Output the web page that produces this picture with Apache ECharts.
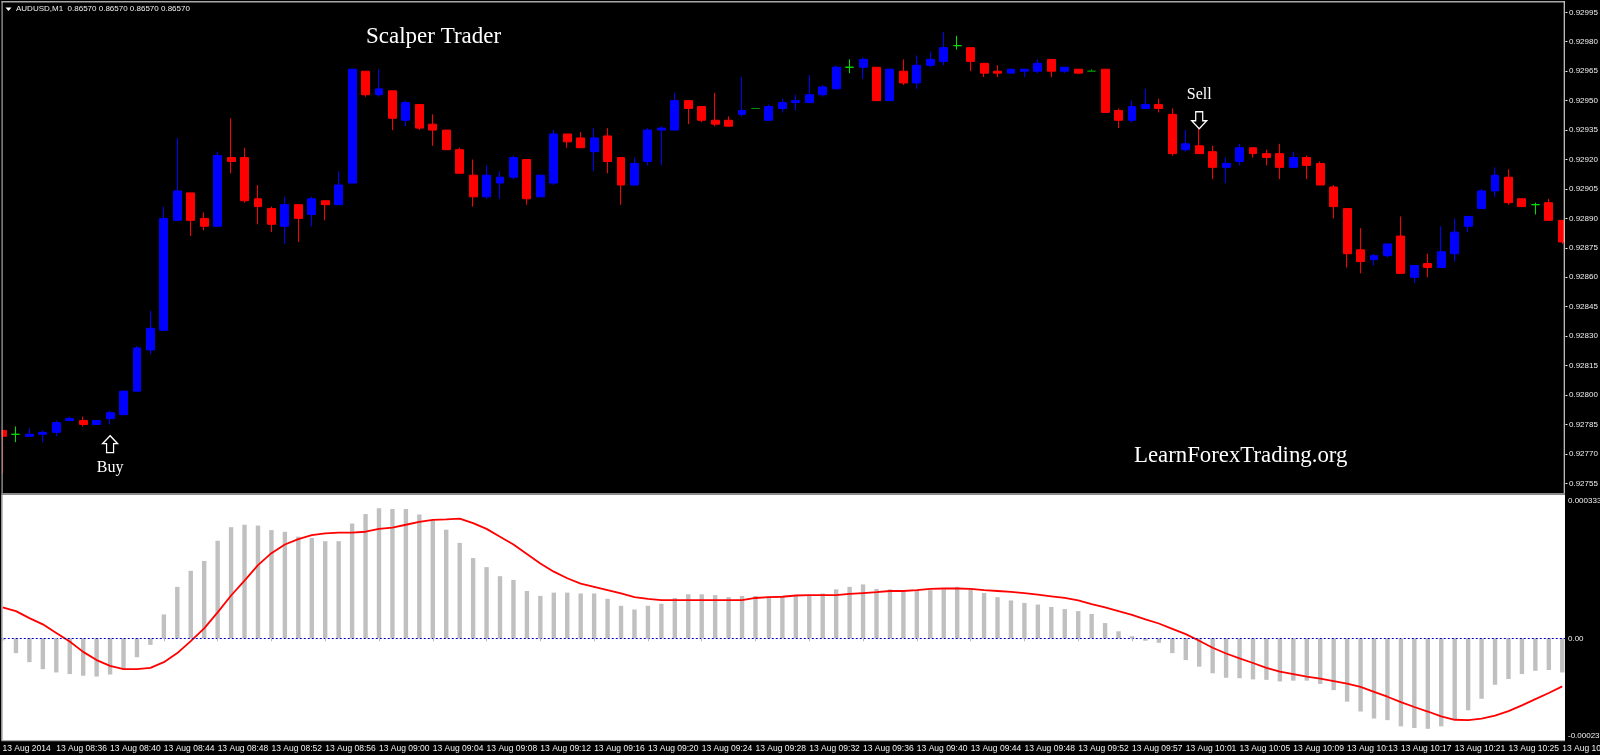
<!DOCTYPE html>
<html><head><meta charset="utf-8">
<style>html,body{margin:0;padding:0;background:#000;overflow:hidden}#c{width:1600px;height:755px}</style>
<script src="https://cdn.jsdelivr.net/npm/echarts@6/dist/echarts.min.js"></script>
</head><body><div id="c"></div>
<script>
// Prices are stored as points above 0.92000 (1 point = 0.00001)
const priceBase = 0.92, pointSize = 0.00001;
const opens = [782,780,779,780,781,787,787,785,788,790,802,823,833,889,903,890,886,921,921,900,895,886,897,892,899,897,908,965,953,955,940,948,938,935,925,912,901,908,911,920,901,908,933,931,924,932,921,907,919,935,935,950,947,940,940,943,946,940,946,949,949,953,956,967,967,967,950,965,959,968,970,978,977,969,965,964,965,965,971,965,966,965,966,945,940,946,948,943,925,927,924,916,919,926,923,923,916,921,918,906,895,874,869,871,881,860,867,865,872,886,895,904,911,900,897,898,889];
const closes = [779,780,780,781,786,788,785,787,791,802,824,834,890,904,889,886,922,919,899,896,887,897,890,900,897,907,966,953,956,941,949,936,935,925,913,901,912,911,921,900,912,933,929,926,931,919,907,918,935,936,950,946,940,938,937,945,946,947,949,950,953,957,967,967,971,950,966,959,968,971,977,978,970,964,964,966,966,969,965,967,964,965,944,940,947,948,946,923,928,923,916,918,926,923,921,916,921,917,907,896,872,868,871,877,862,866,865,873,883,891,904,912,898,896,897,889,878];
const highs = [782,784,783,782,787,789,789,787,792,802,825,843,896,931,903,893,924,941,926,907,896,901,897,901,899,914,966,965,966,955,950,948,943,935,926,920,917,914,922,920,912,935,933,934,936,936,921,921,936,937,954,950,947,954,942,962,946,948,951,953,963,958,968,971,972,967,966,971,973,975,985,983,977,969,968,966,966,971,971,967,966,966,966,946,950,956,951,946,935,936,927,921,928,926,925,928,924,922,919,907,895,885,872,877,891,866,872,886,890,891,905,916,915,900,898,900,889];
const lows = [760,776,779,776,779,787,784,785,785,790,802,821,833,889,881,884,886,913,898,887,883,877,878,886,889,897,908,952,952,935,937,935,927,925,913,896,900,900,910,897,901,907,926,926,914,913,897,907,917,917,935,938,939,937,937,942,946,940,944,945,949,952,956,964,961,950,950,958,956,967,968,976,965,962,962,964,962,964,962,964,964,965,944,936,939,946,944,922,924,923,910,908,917,921,917,910,916,910,907,890,865,862,866,870,862,857,860,865,868,883,895,901,897,896,892,889,877];
const darkDoji = [56, 81];
// MACD values in millionths (1 = 0.000001)
const macdBars = [-5,-36,-58,-75,-83,-87,-91,-93,-88,-75,-46,-16,58,125,164,188,237,270,276,274,263,259,247,244,236,236,279,302,316,314,314,301,288,264,232,195,173,151,142,115,103,111,111,109,109,96,79,70,79,84,98,107,107,105,100,103,103,102,100,104,105,109,119,125,131,120,119,115,115,117,119,125,120,110,100,92,86,82,76,71,66,59,37,17,5,-6,-11,-36,-53,-69,-85,-96,-97,-100,-101,-105,-103,-103,-111,-126,-154,-178,-195,-199,-214,-218,-220,-214,-198,-175,-147,-113,-99,-87,-79,-77,-83];
const macdSignal = [75,66,49,34,13,-8,-33,-53,-67,-75,-75,-72,-58,-36,-7,24,63,104,140,178,207,228,241,251,255,257,257,259,266,269,276,283,288,289,291,280,266,247,228,205,182,162,146,133,125,117,109,100,96,93,93,93,93,93,93,93,98,100,101,104,105,105,105,108,110,112,115,115,117,120,121,121,120,117,115,113,110,106,102,98,92,83,75,66,57,46,36,23,10,-6,-23,-37,-49,-60,-72,-81,-87,-93,-98,-104,-110,-118,-130,-142,-155,-167,-178,-190,-198,-199,-195,-188,-177,-163,-148,-133,-117];
const tickLabels = ['13 Aug 2014','13 Aug 08:36','13 Aug 08:40','13 Aug 08:44','13 Aug 08:48','13 Aug 08:52','13 Aug 08:56','13 Aug 09:00','13 Aug 09:04','13 Aug 09:08','13 Aug 09:12','13 Aug 09:16','13 Aug 09:20','13 Aug 09:24','13 Aug 09:28','13 Aug 09:32','13 Aug 09:36','13 Aug 09:40','13 Aug 09:44','13 Aug 09:48','13 Aug 09:52','13 Aug 09:57','13 Aug 10:01','13 Aug 10:05','13 Aug 10:09','13 Aug 10:13','13 Aug 10:17','13 Aug 10:21','13 Aug 10:25','13 Aug 10:29'];
const priceTicks = [0.92995,0.92980,0.92965,0.92950,0.92935,0.92920,0.92905,0.92890,0.92875,0.92860,0.92845,0.92830,0.92815,0.92800,0.92785,0.92770,0.92755];
const macdTicks = [0.000333,0,-0.000237];
const headerText = 'AUDUSD,M1  0.86570 0.86570 0.86570 0.86570';

const price = p => +(priceBase + p * pointSize).toFixed(5);
const categories = opens.map((_, k) => k % 4 === 0 ? tickLabels[k / 4] : String(k));
const candles = opens.map((o, k) => {
  const value = [price(o), price(closes[k]), price(lows[k]), price(highs[k])];
  return darkDoji.includes(k) ? {value, itemStyle: {borderColorDoji: '#009000'}} : value;
});
const arrowUp = 'path://M7.5 0 L15 8 L11 8 L11 17 L4 17 L4 8 L0 8 Z';
const frame = '#a8a8a8', labelColor = '#f0f0f0', font = '"Liberation Sans"';
const gridLeft = -4.22, gridWidth = 1573.2;

const chart = echarts.init(document.getElementById('c'), null, {renderer: 'canvas', width: 1600, height: 755});
chart.setOption({
  animation: false,
  backgroundColor: '#000',
  title: [
    {text: 'Scalper Trader', left: 366, top: 25, z: 120, textStyle: {color: '#fff', fontFamily: '"Liberation Serif"', fontSize: 23, fontWeight: 'normal'}, padding: 0},
    {text: 'LearnForexTrading.org', left: 1134, top: 445, z: 120, textStyle: {color: '#fff', fontFamily: '"Liberation Serif"', fontSize: 22.8, fontWeight: 'normal'}, padding: 0},
    {text: headerText, left: 16, top: 5, z: 120, textStyle: {color: labelColor, fontFamily: font, fontSize: 8, fontWeight: 'normal'}, padding: 0}
  ],
  grid: [
    {left: gridLeft, width: gridWidth, top: 3, height: 490, show: false, outerBoundsMode: 'none'},
    {left: gridLeft, width: gridWidth, top: 495, height: 245, show: true, backgroundColor: '#fff', borderWidth: 0, outerBoundsMode: 'none'}
  ],
  xAxis: [
    {type: 'category', gridIndex: 0, data: categories, show: false},
    {type: 'category', gridIndex: 1, data: categories, z: 101,
      axisLine: {show: false},
      axisTick: {show: true, interval: 3, alignWithLabel: true, length: 3, lineStyle: {color: '#bbb'}},
      axisLabel: {interval: 3, align: 'left', margin: 4, color: labelColor, fontFamily: font, fontSize: 8.5, hideOverlap: false, showMinLabel: true, showMaxLabel: true, formatter: v => v}}
  ],
  yAxis: [
    {type: 'value', gridIndex: 0, position: 'right', offset: -3.5, min: 0.9275010, max: 0.9299974, scale: true, z: 101,
      splitLine: {show: false}, axisLine: {show: false},
      axisTick: {show: true, length: 2, customValues: priceTicks, lineStyle: {color: labelColor}},
      axisLabel: {customValues: priceTicks, margin: 3.5, color: labelColor, fontFamily: font, fontSize: 8, formatter: v => v.toFixed(5)}},
    {type: 'value', gridIndex: 1, position: 'right', offset: -3.5, min: -0.0002472, max: 0.0003483, z: 101,
      splitLine: {show: false}, axisLine: {show: false}, axisTick: {show: false, customValues: macdTicks},
      axisLabel: {customValues: macdTicks, margin: 2.5, color: labelColor, fontFamily: font, fontSize: 8, formatter: v => v === 0 ? '0.00' : v.toFixed(6)}}
  ],
  series: [
    {type: 'candlestick', name: 'AUDUSD,M1', xAxisIndex: 0, yAxisIndex: 0, barWidth: 8.4, clip: true, data: candles,
      itemStyle: {color: '#0000ff', color0: '#ff0000', borderColor: '#0000ff', borderColor0: '#ff0000', borderColorDoji: '#00e000', borderWidth: 1},
      markPoint: {silent: true, animation: false, data: [
        {coord: [8, 0.92775], symbol: arrowUp, symbolSize: [15, 17], itemStyle: {color: '#000', borderColor: '#fff', borderWidth: 1.3}, label: {show: false}},
        {coord: [89, 0.92940], symbol: arrowUp, symbolRotate: 180, symbolSize: [15, 17], itemStyle: {color: '#000', borderColor: '#fff', borderWidth: 1.3}, label: {show: false}},
        {coord: [8, 0.92763], symbol: 'circle', symbolSize: 1, itemStyle: {color: 'transparent'}, label: {show: true, formatter: 'Buy', position: 'inside', color: '#fff', fontFamily: '"Liberation Serif"', fontSize: 16}},
        {coord: [89, 0.92953], symbol: 'circle', symbolSize: 1, itemStyle: {color: 'transparent'}, label: {show: true, formatter: 'Sell', position: 'inside', color: '#fff', fontFamily: '"Liberation Serif"', fontSize: 16}}
      ]}},
    {type: 'bar', name: 'MACD', xAxisIndex: 1, yAxisIndex: 1, barWidth: 4.4, itemStyle: {color: '#c0c0c0'}, data: macdBars.map(v => v * 1e-6),
      markLine: {silent: true, symbol: 'none', animation: false, label: {show: false}, lineStyle: {color: '#0000c8', width: 1, type: [2, 2]}, data: [{yAxis: 0}]}},
    {type: 'line', name: 'Signal', xAxisIndex: 1, yAxisIndex: 1, showSymbol: false, symbol: 'none', smooth: false, lineStyle: {color: '#ff0000', width: 1.8}, data: macdSignal.map(v => v * 1e-6)}
  ],
  graphic: [
    {type: 'rect', z: 100, silent: true, shape: {x: 0, y: 0, width: 1.5, height: 755}, style: {fill: '#000'}},
    {type: 'rect', z: 100, silent: true, shape: {x: 1565, y: 0, width: 5, height: 755}, style: {fill: '#000'}},
    {type: 'rect', z: 100, silent: true, shape: {x: 1.5, y: 740, width: 1566, height: 15}, style: {fill: '#000'}},
    {type: 'rect', z: 100, silent: true, shape: {x: 1.5, y: 1, width: 1563.5, height: 1.5}, style: {fill: frame}},
    {type: 'rect', z: 100, silent: true, shape: {x: 1.5, y: 1, width: 1.2, height: 740}, style: {fill: frame}},
    {type: 'rect', z: 100, silent: true, shape: {x: 1563.7, y: 1, width: 1.2, height: 493}, style: {fill: '#d0d0d0'}},
    {type: 'rect', z: 100, silent: true, shape: {x: 1.5, y: 493, width: 1563.5, height: 2}, style: {fill: '#8a8a8a'}},
    {type: 'rect', z: 100, silent: true, shape: {x: 1.5, y: 740, width: 1563.5, height: 1.2}, style: {fill: frame}},
    {type: 'polygon', z: 100, silent: true, shape: {points: [[5.5, 7.5], [11.5, 7.5], [8.5, 11]]}, style: {fill: '#fff'}}
  ]
});
</script></body></html>
